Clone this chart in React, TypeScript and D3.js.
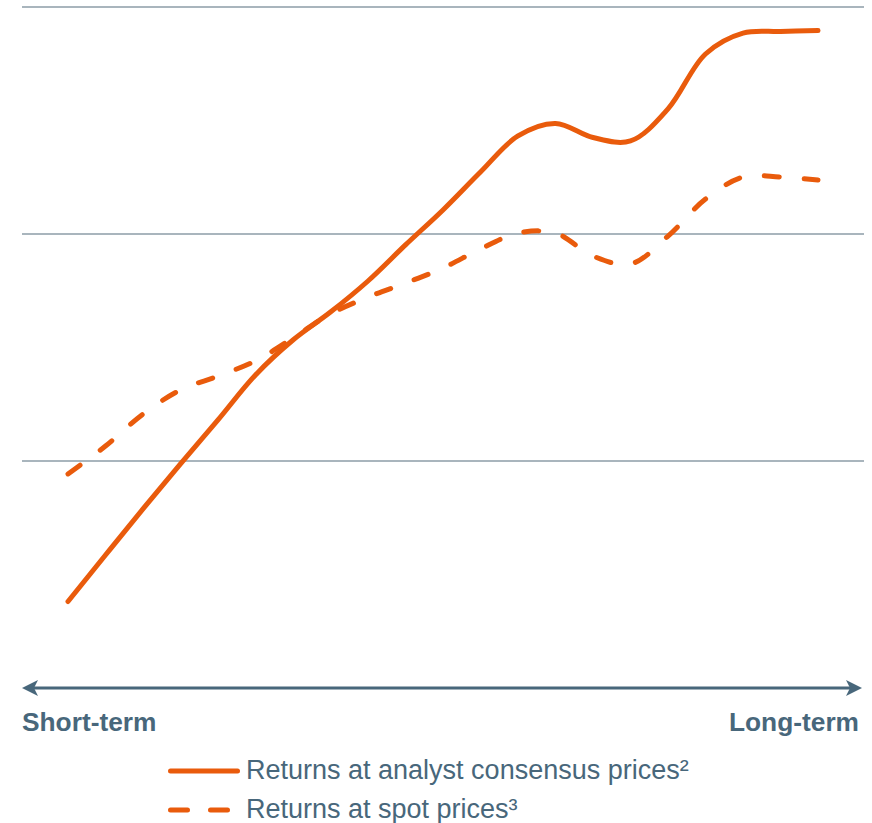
import React from "react";
import * as d3 from "d3";

const xSteps = [0, 0.5, 1, 1.5, 2, 2.5, 3, 3.5, 4, 4.5, 5, 5.5, 6, 6.5, 7, 7.5, 8, 8.5, 9, 9.5, 10];
const analystConsensus = [0.381, 0.586, 0.789, 0.987, 1.181, 1.379, 1.533, 1.656, 1.793, 1.952, 2.106, 2.273, 2.432, 2.487, 2.425, 2.410, 2.551, 2.793, 2.885, 2.892, 2.896];
const spotPrices = [0.943, 1.066, 1.207, 1.313, 1.374, 1.441, 1.542, 1.648, 1.722, 1.784, 1.850, 1.934, 2.004, 2.004, 1.903, 1.868, 1.991, 2.154, 2.251, 2.251, 2.238];
const gridValues = [1, 2, 3];
const axisLabels = ["Short-term", "Long-term"];
const legendLabels = ["Returns at analyst consensus prices²", "Returns at spot prices³"];

const W = 872;
const H = 823;
const ORANGE = "#E95B0C";
const SLATE = "#48677B";
const GRID = "#8D9CA7";
const FONT = "'Liberation Sans', Arial, Helvetica, sans-serif";

export default function App() {
  const x = d3.scaleLinear().domain([0, 10]).range([68, 818]);
  const y = d3.scaleLinear().domain([0, 3]).range([688, 7]);
  const line = d3
    .line<number>()
    .x((_, i) => x(xSteps[i]))
    .y((d) => y(d))
    .curve(d3.curveCatmullRom.alpha(0.5));

  const axisY = y(0);
  const axL = 22;
  const axR = 862;

  return (
    <svg
      width={W}
      height={H}
      style={{ position: "absolute", left: 0, top: 0, background: "#fff" }}
      fontFamily={FONT}
    >
      {gridValues.map((g) => (
        <line key={g} x1={22} x2={864} y1={y(g)} y2={y(g)} stroke={GRID} strokeWidth={1.3} />
      ))}

      <path d={line(spotPrices) || ""} fill="none" stroke={ORANGE} strokeWidth={5} strokeLinecap="round" strokeDasharray="15 25" />
      <path d={line(analystConsensus) || ""} fill="none" stroke={ORANGE} strokeWidth={5} strokeLinecap="round" />

      <line x1={axL + 8} x2={axR - 8} y1={axisY} y2={axisY} stroke={SLATE} strokeWidth={3} />
      <path d={`M${axL},${axisY} L${axL + 16},${axisY - 8} L${axL + 12},${axisY} L${axL + 16},${axisY + 8} Z`} fill={SLATE} />
      <path d={`M${axR},${axisY} L${axR - 16},${axisY - 8} L${axR - 12},${axisY} L${axR - 16},${axisY + 8} Z`} fill={SLATE} />

      <text x={22} y={731} fontSize={26.3} fontWeight="bold" fill={SLATE}>{axisLabels[0]}</text>
      <text x={859} y={731} fontSize={26.3} fontWeight="bold" fill={SLATE} textAnchor="end">{axisLabels[1]}</text>

      <line x1={170.5} x2={237.5} y1={771} y2={771} stroke={ORANGE} strokeWidth={5} strokeLinecap="round" />
      <text x={246} y={779} fontSize={27} fill={SLATE}>{legendLabels[0]}</text>
      <line x1={170.5} x2={228} y1={810} y2={810} stroke={ORANGE} strokeWidth={5} strokeLinecap="round" strokeDasharray="17 23" />
      <text x={246} y={818} fontSize={27} fill={SLATE}>{legendLabels[1]}</text>
    </svg>
  );
}
